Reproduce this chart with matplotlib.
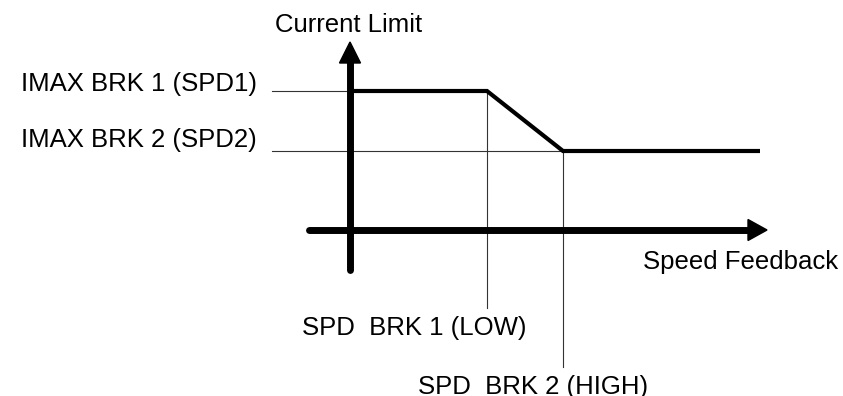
import matplotlib
matplotlib.use("Agg")
import matplotlib.pyplot as plt
from matplotlib.patches import Polygon

# Break points of the braking current limit (speed in x, current limit in y)
spd_brk = [137, 213]          # SPD BRK 1 (LOW), SPD BRK 2 (HIGH)
imax_brk = [139, 79]          # IMAX BRK 1 (SPD1), IMAX BRK 2 (SPD2)
speed_end = 410
curve_speed = [0, spd_brk[0], spd_brk[1], speed_end]
curve_current = [imax_brk[0], imax_brk[0], imax_brk[1], imax_brk[1]]

spd_labels = ["SPD  BRK 1 (LOW)", "SPD  BRK 2 (HIGH)"]
imax_labels = ["IMAX BRK 1 (SPD1)", "IMAX BRK 2 (SPD2)"]

plt.rcParams["font.family"] = ["Liberation Sans", "DejaVu Sans"]

fig = plt.figure(figsize=(8.43, 3.96), dpi=100)
ax = fig.add_axes([0, 0, 1, 1])
ax.set_xlim(-350, 493)
ax.set_ylim(-166, 230)
ax.axis("off")

thin = dict(color="#333333", lw=0.8, zorder=1)

# guide lines to the break points
ax.plot([-78, curve_speed[1]], [imax_brk[0], imax_brk[0]], **thin)
ax.plot([-78, spd_brk[1]], [imax_brk[1], imax_brk[1]], **thin)
ax.plot([spd_brk[0], spd_brk[0]], [imax_brk[0], -78], **thin)
ax.plot([spd_brk[1], spd_brk[1]], [imax_brk[1], -137], **thin)

# axes with arrow heads
ax.plot([0, 0], [-40, 170], color="black", lw=5, solid_capstyle="round", zorder=3)
ax.add_patch(Polygon([[-10.5, 167], [10.5, 167], [0, 188]], closed=True,
                     color="black", zorder=3))
ax.plot([-41, 400], [0, 0], color="black", lw=5, solid_capstyle="round", zorder=3)
ax.add_patch(Polygon([[398, -10.5], [398, 10.5], [417, 0]], closed=True,
                     color="black", zorder=3))

# current limit curve
ax.plot(curve_speed, curve_current, color="black", lw=3, zorder=4,
        solid_joinstyle="miter", solid_capstyle="butt")

fs = 18.5
ax.text(-75, 198, "Current Limit", fontsize=fs, va="baseline", ha="left")
ax.text(293, -39, "Speed Feedback", fontsize=fs, va="baseline", ha="left")
ax.text(-329, imax_brk[0], imax_labels[0], fontsize=fs, va="baseline", ha="left")
ax.text(-329, imax_brk[1] + 4, imax_labels[1], fontsize=fs, va="baseline", ha="left")
ax.text(-48, -105, spd_labels[0], fontsize=fs, va="baseline", ha="left")
ax.text(68, -164, spd_labels[1], fontsize=fs, va="baseline", ha="left")

fig.savefig("out.png", dpi=100, facecolor="white")
